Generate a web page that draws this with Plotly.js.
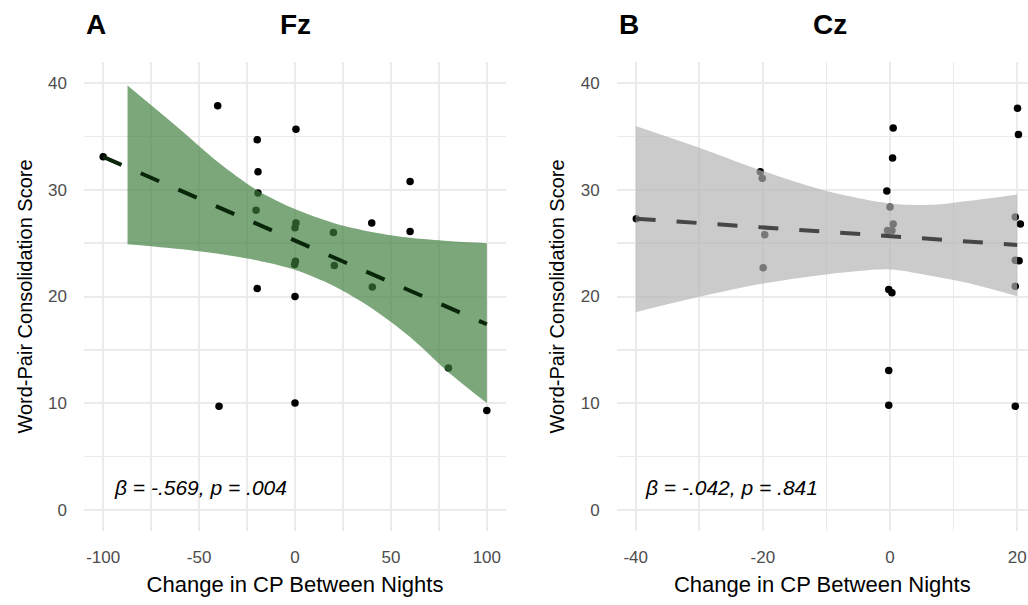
<!DOCTYPE html>
<html>
<head>
<meta charset="utf-8">
<script src="https://cdn.plot.ly/plotly-3.0.1.min.js"></script>
<style>html,body{margin:0;padding:0;background:#fff;overflow:hidden}#chart{width:1028px;height:605px}</style>
</head>
<body>
<div id="chart"></div>
<script>
// ---- Panel A (Fz) data ----
const fzX = [-100, -40.3, 0.5, -19.7, -19.3, 60, -19.3, -20.3, 0.5, 0, 40, 20, 60, 0.2, -0.2, 20.5, 40.3, -19.7, 0, 80, -39.6, 0, 100];
const fzY = [33.1, 37.9, 35.7, 34.7, 31.7, 30.8, 29.7, 28.1, 26.9, 26.45, 26.9, 26.0, 26.1, 23.3, 23.0, 22.9, 20.9, 20.75, 20.0, 13.3, 9.7, 10.0, 9.3];
const fzLineX = [-100, 100];
const fzLineY = [33.1, 17.4];
const fzBandX = [-87.3, -60, -40, -20, 0, 20, 40, 60, 80, 100];
const fzUpper = [39.8, 35.7, 32.6, 30.0, 28.2, 26.9, 26.05, 25.5, 25.2, 25.0];
const fzLower = [24.9, 24.45, 24.0, 23.4, 22.5, 21.0, 18.9, 16.2, 12.9, 10.0];
const fzLabel = "β = -.569, p = .004";
const fzTickVals = [-100, -50, 0, 50, 100];
const fzTickText = ["-100", "-50", "0", "50", "100"];

// ---- Panel B (Cz) data ----
const czX = [-39.9, -20.4, -20.1, -19.7, -19.95, 0.5, 0.4, -0.5, 0, 0.5, -0.4, 0.3, -0.2, 0.3, -0.2, -0.2, 20.05, 20.2, 19.7, 20.5, 19.7, 20.3, 19.7, 19.7];
const czY = [27.3, 31.7, 31.1, 25.8, 22.7, 35.8, 33.0, 29.9, 28.4, 26.8, 26.2, 26.2, 20.65, 20.35, 13.05, 9.8, 37.65, 35.2, 27.45, 26.8, 23.4, 23.35, 20.95, 9.7];
const czLineX = [-40, 20];
const czLineY = [27.3, 24.84];
const czBandX = [-40, -30, -20, -10, 0, 6.8, 12.1, 20];
const czUpper = [36.0, 33.96, 31.77, 29.9, 28.73, 28.6, 28.95, 29.58];
const czLower = [18.53, 19.97, 21.22, 22.07, 22.54, 21.9, 21.29, 20.03];
const czLabel = "β = -.042, p = .841";
const czTickVals = [-40, -20, 0, 20];
const czTickText = ["-40", "-20", "0", "20"];

// ---- shared y ticks / text ----
const yTickVals = [0, 10, 20, 30, 40];
const yTickText = ["0", "10", "20", "30", "40"];
const xTitle = "Change in CP Between Nights";
const yTitle = "Word-Pair Consolidation Score";
const panelLetters = ["A", "B"];
const panelTitles = ["Fz", "Cz"];

const FONT = "Liberation Sans, Arial, sans-serif";

function bandTraces(xs, up, lo, fill, xa, ya) {
  return [
    {x: xs, y: lo, type: 'scatter', mode: 'lines', line: {width: 0, color: 'rgba(0,0,0,0)', shape: 'spline', smoothing: 0.8}, xaxis: xa, yaxis: ya, hoverinfo: 'skip'},
    {x: xs, y: up, type: 'scatter', mode: 'lines', fill: 'tonexty', fillcolor: fill, line: {width: 0, color: 'rgba(0,0,0,0)', shape: 'spline', smoothing: 0.8}, xaxis: xa, yaxis: ya, hoverinfo: 'skip'}
  ];
}

const traces = [
  {x: fzX, y: fzY, type: 'scatter', mode: 'markers', marker: {color: '#000', size: 7.5}, xaxis: 'x', yaxis: 'y', hoverinfo: 'skip'},
  ...bandTraces(fzBandX, fzUpper, fzLower, 'rgba(60,125,60,0.68)', 'x', 'y'),
  {x: fzLineX, y: fzLineY, type: 'scatter', mode: 'lines', line: {color: '#0a260a', width: 4, dash: '20px,21px'}, xaxis: 'x', yaxis: 'y', hoverinfo: 'skip'},
  {x: czX, y: czY, type: 'scatter', mode: 'markers', marker: {color: '#000', size: 7.5}, xaxis: 'x2', yaxis: 'y2', hoverinfo: 'skip'},
  ...bandTraces(czBandX, czUpper, czLower, 'rgba(178,178,178,0.67)', 'x2', 'y2'),
  {x: czLineX, y: czLineY, type: 'scatter', mode: 'lines', line: {color: '#464646', width: 4, dash: '20px,21px'}, xaxis: 'x2', yaxis: 'y2', hoverinfo: 'skip'}
];

const gridC = '#ebebeb';
function xax(domain, range, tv, tt, minorDtick, anchor) {
  return {
    domain: domain, range: range, anchor: anchor, tickmode: 'array', tickvals: tv, ticktext: tt,
    showgrid: true, gridcolor: gridC, gridwidth: 2, zeroline: false, showline: false, ticks: '',
    minor: {dtick: minorDtick, tick0: 0, showgrid: true, gridcolor: gridC, gridwidth: 1.6},
    tickfont: {family: FONT, size: 17, color: '#4d4d4d'}, ticklabelstandoff: 14,
    title: {text: xTitle, font: {family: FONT, size: 22, color: '#000'}, standoff: 10}
  };
}
function yax(anchor) {
  return {
    domain: [0, 1], range: [-2, 42], anchor: anchor, tickmode: 'array', tickvals: yTickVals, ticktext: yTickText,
    showgrid: true, gridcolor: gridC, gridwidth: 2, zeroline: false, showline: false, ticks: '',
    minor: {dtick: 5, tick0: 0, showgrid: true, gridcolor: gridC, gridwidth: 1.6},
    tickfont: {family: FONT, size: 17, color: '#4d4d4d'}, ticklabelstandoff: 16,
    title: {text: yTitle, font: {family: FONT, size: 20, color: '#000'}, standoff: 10}
  };
}

const W = 1028, H = 605, T = 62, B = 74;
const plotH = H - T - B;
function py(pix) { return (H - B - pix) / plotH; }

const annotations = [
  {text: '<i>' + fzLabel + '</i>', x: -95.6, y: 2.1, xref: 'x', yref: 'y', xanchor: 'left', yanchor: 'middle', showarrow: false, font: {family: FONT, size: 21, color: '#000'}},
  {text: '<i>' + czLabel + '</i>', x: -38.85, y: 2.1, xref: 'x2', yref: 'y2', xanchor: 'left', yanchor: 'middle', showarrow: false, font: {family: FONT, size: 21, color: '#000'}},
  {text: '<b>' + panelLetters[0] + '</b>', x: 84 / W, y: py(25), xref: 'paper', yref: 'paper', xanchor: 'left', yanchor: 'middle', showarrow: false, font: {family: FONT, size: 28, color: '#000'}},
  {text: '<b>' + panelTitles[0] + '</b>', x: 295.5 / W, y: py(25), xref: 'paper', yref: 'paper', xanchor: 'center', yanchor: 'middle', showarrow: false, font: {family: FONT, size: 28, color: '#000'}},
  {text: '<b>' + panelLetters[1] + '</b>', x: 617 / W, y: py(25), xref: 'paper', yref: 'paper', xanchor: 'left', yanchor: 'middle', showarrow: false, font: {family: FONT, size: 28, color: '#000'}},
  {text: '<b>' + panelTitles[1] + '</b>', x: 830 / W, y: py(25), xref: 'paper', yref: 'paper', xanchor: 'center', yanchor: 'middle', showarrow: false, font: {family: FONT, size: 28, color: '#000'}}
];

const layout = {
  width: W, height: H,
  margin: {l: 0, r: 0, t: T, b: B},
  paper_bgcolor: '#fff', plot_bgcolor: '#fff',
  showlegend: false,
  font: {family: FONT},
  xaxis: xax([84 / W, 506 / W], [-110, 110], fzTickVals, fzTickText, 25, 'y'),
  yaxis: yax('x'),
  xaxis2: xax([616.6 / W, 1], [-43, 21.7], czTickVals, czTickText, 10, 'y2'),
  yaxis2: yax('x2'),
  annotations: annotations
};

Plotly.newPlot('chart', traces, layout, {staticPlot: true, displayModeBar: false});
</script>
</body>
</html>
